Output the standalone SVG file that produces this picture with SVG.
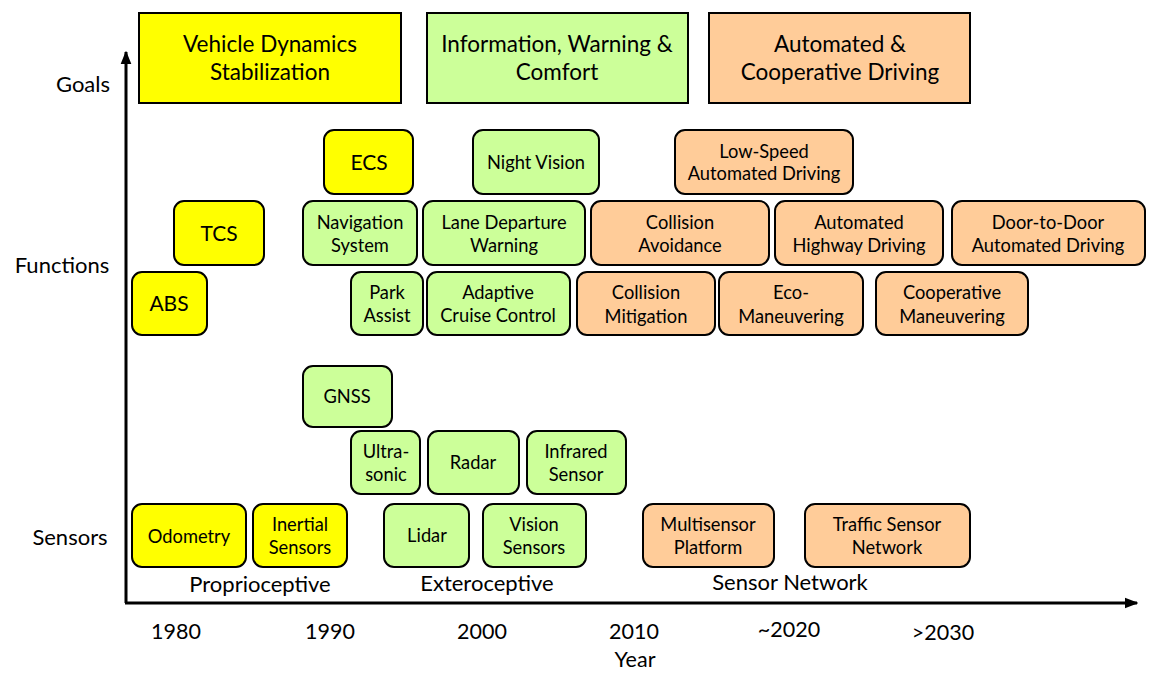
<svg xmlns="http://www.w3.org/2000/svg" width="1149" height="673" viewBox="0 0 1149 673">
<defs>
<marker id="ah" viewBox="0 0 10 10" refX="9" refY="5" markerWidth="4.5" markerHeight="4.5" orient="auto" markerUnits="strokeWidth"><path d="M0,1 L10,5 L0,9 z" fill="#000"/></marker>
<style>
text{font-family:Lato,"Open Sans","Liberation Sans",sans-serif;fill:#000;text-anchor:middle}
.g rect{stroke:#000;stroke-width:2}
.n rect{stroke:#000;stroke-width:2}
.y{fill:#FFFF00}.gr{fill:#CCFF99}.o{fill:#FFCC99}
.gt{font-size:22.5px}.ft{font-size:18.3px}.bt{font-size:21px}.st{font-size:18.3px}.ax{font-size:22px}.yr{font-size:21.5px}
</style>
</defs>
<g id="connectors">
<line x1="126" y1="603" x2="126" y2="52" stroke="#000" stroke-width="3" marker-end="url(#ah)"/>
<line x1="125" y1="603" x2="1137" y2="603" stroke="#000" stroke-width="3" marker-end="url(#ah)"/>
</g>
<g id="axis-labels">
<text class="ax" x="83" y="92">Goals</text>
<text class="ax" x="62" y="273">Functions</text>
<text class="ax" x="70" y="545">Sensors</text>
<text class="yr" x="176" y="639">1980</text>
<text class="yr" x="330" y="639">1990</text>
<text class="yr" x="482" y="639">2000</text>
<text class="yr" x="634" y="639">2010</text>
<text class="yr" x="789" y="637">~2020</text>
<text class="yr" x="943" y="640">&gt;2030</text>
<text class="yr" x="635" y="667">Year</text>
<text class="ax" x="260" y="592">Proprioceptive</text>
<text class="ax" x="487" y="591">Exteroceptive</text>
<text class="ax" x="790" y="590">Sensor Network</text>
</g>
<g id="goal-vds" class="g"><rect class="y" x="139" y="13" width="262" height="90"/><text class="gt" x="270" y="52">Vehicle Dynamics</text><text class="gt" x="270" y="80">Stabilization</text></g>
<g id="goal-iwc" class="g"><rect class="gr" x="427" y="13" width="261" height="90"/><text class="gt" x="557" y="52">Information, Warning &amp;</text><text class="gt" x="557" y="80">Comfort</text></g>
<g id="goal-acd" class="g"><rect class="o" x="709" y="13" width="261" height="90"/><text class="gt" x="840" y="52">Automated &amp;</text><text class="gt" x="840" y="80">Cooperative Driving</text></g>

<g id="f-ecs" class="n"><rect class="y" x="324" y="130" width="89" height="64" rx="10"/><text class="bt" x="369" y="170">ECS</text></g>
<g id="f-nv" class="n"><rect class="gr" x="473" y="130" width="126" height="64" rx="10"/><text class="ft" x="536" y="169">Night Vision</text></g>
<g id="f-lsad" class="n"><rect class="o" x="675" y="130" width="178" height="64" rx="10"/><text class="ft" x="764" y="158">Low-Speed</text><text class="ft" x="764" y="180">Automated Driving</text></g>
<g id="f-tcs" class="n"><rect class="y" x="174" y="201" width="90" height="64" rx="10"/><text class="bt" x="219" y="241">TCS</text></g>
<g id="f-nav" class="n"><rect class="gr" x="303" y="201" width="114" height="64" rx="10"/><text class="ft" x="360" y="229">Navigation</text><text class="ft" x="360" y="252">System</text></g>
<g id="f-ldw" class="n"><rect class="gr" x="423" y="201" width="162" height="64" rx="10"/><text class="ft" x="504" y="229">Lane Departure</text><text class="ft" x="504" y="252">Warning</text></g>
<g id="f-ca" class="n"><rect class="o" x="591" y="201" width="178" height="64" rx="10"/><text class="ft" x="680" y="229">Collision</text><text class="ft" x="680" y="252">Avoidance</text></g>
<g id="f-ahd" class="n"><rect class="o" x="775" y="201" width="168" height="64" rx="10"/><text class="ft" x="859" y="229">Automated</text><text class="ft" x="859" y="252">Highway Driving</text></g>
<g id="f-d2d" class="n"><rect class="o" x="952" y="201" width="193" height="64" rx="10"/><text class="ft" x="1048" y="229">Door-to-Door</text><text class="ft" x="1048" y="252">Automated Driving</text></g>
<g id="f-abs" class="n"><rect class="y" x="132" y="272" width="75" height="63" rx="10"/><text class="bt" x="169" y="311">ABS</text></g>
<g id="f-pa" class="n"><rect class="gr" x="351" y="272" width="72" height="63" rx="10"/><text class="ft" x="387" y="299">Park</text><text class="ft" x="387" y="322">Assist</text></g>
<g id="f-acc" class="n"><rect class="gr" x="427" y="272" width="143" height="63" rx="10"/><text class="ft" x="498" y="299">Adaptive</text><text class="ft" x="498" y="322">Cruise Control</text></g>
<g id="f-cm" class="n"><rect class="o" x="577" y="272" width="138" height="63" rx="10"/><text class="ft" x="646" y="299">Collision</text><text class="ft" x="646" y="323">Mitigation</text></g>
<g id="f-eco" class="n"><rect class="o" x="719" y="272" width="144" height="63" rx="10"/><text class="ft" x="791" y="299">Eco-</text><text class="ft" x="791" y="323">Maneuvering</text></g>
<g id="f-coop" class="n"><rect class="o" x="876" y="272" width="152" height="63" rx="10"/><text class="ft" x="952" y="299">Cooperative</text><text class="ft" x="952" y="323">Maneuvering</text></g>

<g id="s-gnss" class="n"><rect class="gr" x="303" y="366" width="89" height="61" rx="10"/><text class="st" x="347" y="403">GNSS</text></g>
<g id="s-us" class="n"><rect class="gr" x="351" y="431" width="69" height="63" rx="10"/><text class="st" x="386" y="458">Ultra-</text><text class="st" x="386" y="481">sonic</text></g>
<g id="s-radar" class="n"><rect class="gr" x="428" y="431" width="91" height="63" rx="10"/><text class="st" x="473" y="469">Radar</text></g>
<g id="s-ir" class="n"><rect class="gr" x="527" y="431" width="99" height="63" rx="10"/><text class="st" x="576" y="458">Infrared</text><text class="st" x="576" y="481">Sensor</text></g>
<g id="s-odo" class="n"><rect class="y" x="132" y="504" width="114" height="63" rx="10"/><text class="st" x="189" y="543">Odometry</text></g>
<g id="s-ins" class="n"><rect class="y" x="253" y="504" width="94" height="63" rx="10"/><text class="st" x="300" y="531">Inertial</text><text class="st" x="300" y="554">Sensors</text></g>
<g id="s-lidar" class="n"><rect class="gr" x="384" y="504" width="85" height="63" rx="10"/><text class="st" x="427" y="542">Lidar</text></g>
<g id="s-vis" class="n"><rect class="gr" x="483" y="504" width="103" height="63" rx="10"/><text class="st" x="534" y="531">Vision</text><text class="st" x="534" y="554">Sensors</text></g>
<g id="s-msp" class="n"><rect class="o" x="643" y="504" width="131" height="63" rx="10"/><text class="st" x="708" y="531">Multisensor</text><text class="st" x="708" y="554">Platform</text></g>
<g id="s-tsn" class="n"><rect class="o" x="805" y="504" width="165" height="63" rx="10"/><text class="st" x="887" y="531">Traffic Sensor</text><text class="st" x="887" y="554">Network</text></g>
</svg>
